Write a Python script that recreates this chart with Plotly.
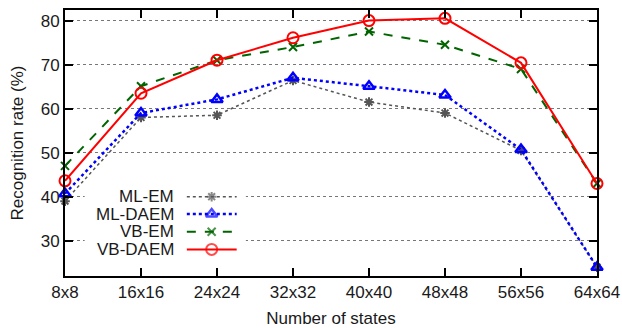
import plotly.graph_objects as go

categories = ["8x8", "16x16", "24x24", "32x32", "40x40", "48x48", "56x56", "64x64"]
ml_em = [39.0, 58.0, 58.5, 66.4, 61.5, 59.0, 50.5, 24.0]
ml_daem = [40.7, 59.0, 62.1, 67.0, 65.1, 63.1, 50.7, 24.0]
vb_em = [47.0, 65.1, 71.0, 74.0, 77.5, 74.5, 69.0, 43.0]
vb_daem = [43.6, 63.5, 71.0, 76.1, 80.0, 80.5, 70.4, 43.0]
y_ticks = [30, 40, 50, 60, 70, 80]

FONT = "Liberation Sans"

series = [
    ("ML-EM", ml_em, dict(color="#555555", width=1.5, dash="dot"),
     dict(symbol="asterisk-open", size=8, color="#555555", line=dict(color="#555555", width=2))),
    ("ML-DAEM", ml_daem, dict(color="#0000ff", width=2.5, dash="dot"),
     dict(symbol="triangle-up-open", size=10, color="#0000ff", line=dict(color="#0000ff", width=2.5))),
    ("VB-EM", vb_em, dict(color="#006400", width=2, dash="dash"),
     dict(symbol="x-thin-open", size=8, color="#006400", line=dict(color="#006400", width=2))),
    ("VB-DAEM", vb_daem, dict(color="#ff0000", width=2, dash="solid"),
     dict(symbol="circle-open", size=11, color="#ff0000", line=dict(color="#ff0000", width=2))),
]

fig = go.Figure()
xs = list(range(len(categories)))
for name, vals, line, marker in series:
    fig.add_trace(go.Scatter(x=xs, y=vals, name=name, mode="lines+markers",
                             line=line, marker=marker, cliponaxis=False, showlegend=False))

# custom legend box (white, hides gridlines) and entries with text left of the sample
fig.add_trace(go.Scatter(x=[0.037, 0.34, 0.34, 0.037, 0.037], y=[0.068, 0.068, 0.335, 0.335, 0.068],
                         xaxis="x2", yaxis="y2", mode="lines", fill="toself",
                         fillcolor="white", line=dict(width=0, color="white"),
                         showlegend=False, hoverinfo="skip"))
leg_y = [0.298, 0.233, 0.1665, 0.100]
for (name, vals, line, marker), ly in zip(series, leg_y):
    fig.add_trace(go.Scatter(x=[0.229, 0.2757, 0.3227], y=[ly, ly, ly], xaxis="x2", yaxis="y2",
                             mode="lines+markers", line=line,
                             marker=dict(marker, size=[0, marker["size"], 0]),
                             showlegend=False, hoverinfo="skip", cliponaxis=False))
    fig.add_annotation(x=0.2086, y=ly, xref="x2", yref="y2", text=name, showarrow=False,
                       xanchor="right", yanchor="middle",
                       font=dict(family=FONT, size=17, color="#1a1a1a"))

fig.update_layout(
    width=622, height=328,
    margin=dict(l=65, r=25, t=10, b=52),
    plot_bgcolor="white", paper_bgcolor="white",
    font=dict(family=FONT, size=17, color="#1a1a1a"),
    xaxis=dict(range=[0, 7], tickmode="array", tickvals=xs, ticktext=categories,
               showgrid=False, zeroline=False, showline=True, linecolor="black", linewidth=2,
               mirror="ticks", ticks="inside", ticklen=8, tickwidth=1.5, tickcolor="black",
               title=dict(text="Number of states", standoff=15, font=dict(size=17)),
               tickfont=dict(size=17), automargin=False),
    yaxis=dict(range=[22, 82.4], tickmode="array", tickvals=y_ticks,
               showgrid=True, gridcolor="#777777", griddash="dot", gridwidth=1,
               zeroline=False, showline=True, linecolor="black", linewidth=2,
               mirror="ticks", ticks="inside", ticklen=8, tickwidth=1.5, tickcolor="black",
               title=dict(text="Recognition rate (%)", standoff=13, font=dict(size=17)),
               tickfont=dict(size=17), automargin=False),
    xaxis2=dict(range=[0, 1], overlaying="x", visible=False, fixedrange=True),
    yaxis2=dict(range=[0, 1], overlaying="y", visible=False, fixedrange=True),
)

fig.write_html("out.html", config={"displayModeBar": False},
               post_script="document.body.style.margin='0';")
